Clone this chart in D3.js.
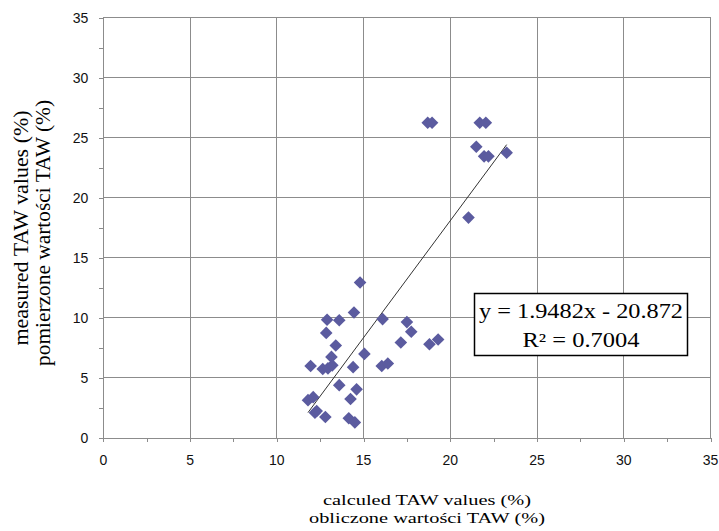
<!DOCTYPE html>
<html>
<head>
<meta charset="utf-8">
<script src="https://cdn.jsdelivr.net/npm/d3@7"></script>
<style>
body { margin: 0; background: #fff; }
svg { display: block; }
</style>
</head>
<body>
<div id="chart"></div>
<script>
// punkty pomiarowe: x = obliczone TAW, y = zmierzone TAW (%)
var calcTAW = [18.7, 18.95, 21.7, 22.05, 21.5, 21.95, 22.2, 23.25, 21.05, 14.8,
	14.45, 12.9, 13.6, 16.1, 17.5, 17.75, 12.85, 13.4, 17.15, 18.8,
	19.3, 15.05, 13.15, 11.95, 12.65, 12.95, 13.2, 14.4, 16.05, 16.4,
	13.6, 14.6, 14.25, 11.8, 12.1, 12.2, 12.3, 12.8, 14.15, 14.5];
var measTAW = [26.25, 26.25, 26.25, 26.25, 24.25, 23.45, 23.45, 23.75, 18.35, 12.95,
	10.45, 9.85, 9.8, 9.9, 9.65, 8.85, 8.75, 7.7, 7.95, 7.8,
	8.2, 7.0, 6.75, 6.0, 5.75, 5.8, 6.05, 5.9, 6.0, 6.2,
	4.4, 4.05, 3.25, 3.15, 3.4, 2.1, 2.25, 1.75, 1.65, 1.3];
var axisTicks = [0, 5, 10, 15, 20, 25, 30, 35];
var minorTicks = [0, 2.5, 5, 7.5, 10, 12.5, 15, 17.5, 20, 22.5, 25, 27.5, 30, 32.5, 35];
var trendSlope = 1.9482, trendIntercept = -20.872;
var eqLines = ["y = 1.9482x - 20.872", "R\u00b2 = 0.7004"];
var xTitle = ["calculed TAW values (%)", "obliczone warto\u015bci TAW (%)"];
var yTitle = ["measured TAW values (%)", "pomierzone warto\u015bci TAW (%)"];

var width = 719, height = 531;
var pLeft = 103.3, pRight = 710.5, pTop = 17.6, pBottom = 438; // granice obszaru wykresu
var gridColor = "#8c8c8c";
var dotColor = "#5b5b9f";

var svg = d3.select("#chart").append("svg").attr("width", width).attr("height", height);

var x = d3.scaleLinear().domain([0, 35]).range([pLeft, pRight]);
var y = d3.scaleLinear().domain([0, 35]).range([pBottom, pTop]);

// siatka
svg.append("g").selectAll("line").data(axisTicks.slice(1)).enter().append("line")
	.attr("x1", function(d) { return x(d); }).attr("x2", function(d) { return x(d); })
	.attr("y1", pTop).attr("y2", pBottom)
	.attr("stroke", gridColor).attr("stroke-width", 1).attr("shape-rendering", "crispEdges");
svg.append("g").selectAll("line").data(axisTicks.slice(1)).enter().append("line")
	.attr("y1", function(d) { return y(d); }).attr("y2", function(d) { return y(d); })
	.attr("x1", pLeft).attr("x2", pRight)
	.attr("stroke", gridColor).attr("stroke-width", 1).attr("shape-rendering", "crispEdges");

// osie
var xAxis = svg.append("g").attr("transform", "translate(0," + pBottom + ")")
	.call(d3.axisBottom(x).tickValues(minorTicks).tickSize(4).tickFormat(""));
var yAxis = svg.append("g").attr("transform", "translate(" + pLeft + ",0)")
	.call(d3.axisLeft(y).tickValues(minorTicks).tickSize(4).tickFormat(""));
svg.selectAll(".domain, .tick line").attr("stroke", gridColor).attr("shape-rendering", "crispEdges");
xAxis.select(".domain").attr("d", "M" + pLeft + ",0H" + pRight);
yAxis.select(".domain").attr("d", "M0," + pTop + "V" + pBottom);

// etykiety osi
svg.append("g").selectAll("text").data(axisTicks).enter().append("text")
	.attr("x", function(d) { return x(d); }).attr("y", pBottom + 27)
	.attr("text-anchor", "middle")
	.style("font-family", "'Liberation Sans', Arial, sans-serif").style("font-size", "14px")
	.attr("fill", "#111").text(function(d) { return d; });
svg.append("g").selectAll("text").data(axisTicks).enter().append("text")
	.attr("x", pLeft - 15).attr("y", function(d) { return y(d); }).attr("dy", "0.36em")
	.attr("text-anchor", "end")
	.style("font-family", "'Liberation Sans', Arial, sans-serif").style("font-size", "14px")
	.attr("fill", "#111").text(function(d) { return d; });

// linia trendu
var xMin = d3.min(calcTAW), xMax = d3.max(calcTAW);
svg.append("line")
	.attr("x1", x(xMin)).attr("y1", y(trendSlope * xMin + trendIntercept))
	.attr("x2", x(xMax)).attr("y2", y(trendSlope * xMax + trendIntercept))
	.attr("stroke", "#333").attr("stroke-width", 1);

// punkty
var pts = calcTAW.map(function(d, i) { return [d, measTAW[i]]; });
svg.append("g").selectAll("path").data(pts).enter().append("path")
	.attr("d", "M0,-6.3L6.3,0L0,6.3L-6.3,0Z")
	.attr("transform", function(d) { return "translate(" + x(d[0]) + "," + y(d[1]) + ")"; })
	.attr("fill", dotColor);

// ramka z równaniem
svg.append("rect").attr("x", 474.5).attr("y", 293.5).attr("width", 213).attr("height", 62)
	.attr("fill", "#fff").attr("stroke", "#000").attr("stroke-width", 1.5);
var eqLen = [204, 117];
svg.append("g").selectAll("text").data(eqLines).enter().append("text")
	.attr("x", 581).attr("y", function(d, i) { return 318 + i * 29; })
	.attr("text-anchor", "middle")
	.attr("textLength", function(d, i) { return eqLen[i]; }).attr("lengthAdjust", "spacingAndGlyphs")
	.style("font-family", "'Liberation Serif', 'Times New Roman', serif").style("font-size", "20px")
	.attr("fill", "#000").text(function(d) { return d; });

// tytuły osi
var xTitleLen = [208, 236];
svg.append("g").selectAll("text").data(xTitle).enter().append("text")
	.attr("x", 427).attr("y", function(d, i) { return 505 + i * 18; })
	.attr("text-anchor", "middle")
	.attr("textLength", function(d, i) { return xTitleLen[i]; }).attr("lengthAdjust", "spacingAndGlyphs")
	.style("font-family", "'Liberation Serif', 'Times New Roman', serif").style("font-size", "15px")
	.attr("fill", "#000").text(function(d) { return d; });
var yTitleLen = [235, 266], yTitleX = [28, 50], yTitleC = [228, 233];
svg.append("g").selectAll("text").data(yTitle).enter().append("text")
	.attr("transform", function(d, i) { return "translate(" + yTitleX[i] + "," + yTitleC[i] + ") rotate(-90)"; })
	.attr("text-anchor", "middle")
	.attr("textLength", function(d, i) { return yTitleLen[i]; }).attr("lengthAdjust", "spacingAndGlyphs")
	.style("font-family", "'Liberation Serif', 'Times New Roman', serif").style("font-size", "20px")
	.attr("fill", "#000").text(function(d) { return d; });
</script>
</body>
</html>
